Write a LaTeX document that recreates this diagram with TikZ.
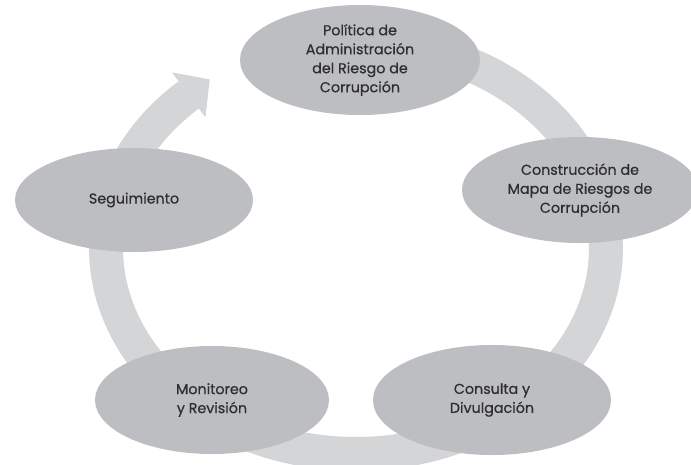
\documentclass[tikz,border=0pt]{standalone}
\usepackage{fontspec}
\setmainfont{Poppins}[FakeBold=0.6]
\usetikzlibrary{shapes.geometric,calc}
\definecolor{bandgray}{HTML}{D4D5D7}
\definecolor{ellgray}{HTML}{BDBEC2}
\definecolor{txtgray}{HTML}{2E2E2E}
\tikzset{
  stage/.style={ellipse, fill=ellgray, draw=none, inner sep=0pt,
    align=center, text=txtgray,
    font=\fontsize{14.3pt}{19pt}\selectfont},
  band/.style={draw=bandgray, line width=34pt},
}
\begin{document}
\begin{tikzpicture}[x=1pt,y=-1pt]
\useasboundingbox (0,0) rectangle (691,464);
\clip (0,0) rectangle (691,464);
\fill[white] (0,0) rectangle (691,464);
% circular band
\draw[band] plot[domain=280:588,samples=160,smooth] ({356+250*cos(\x)},{248+206*sin(\x)});
% arrowhead at end of band
\coordinate (B) at ({356+250*cos(588)},{248+206*sin(588)});
\fill[bandgray] ($(B)+(16.7,22.5)$) -- ($(B)+(21,-15.5)$) -- ($(B)+(-16.7,-22.5)$) -- cycle;
% stages
\node[stage, minimum width=240pt, minimum height=110pt] (pol) at (360,60)
  {Política de\\Administración\\del Riesgo de\\Corrupción};
\node[stage, minimum width=236pt, minimum height=106pt] (con) at (580,190)
  {Construcción de\\Mapa de Riesgos de\\Corrupción};
\node[stage, minimum width=238pt, minimum height=110pt] (cyd) at (492,400)
  {Consulta y\\Divulgación};
\node[stage, minimum width=234pt, minimum height=108pt] (mon) at (212,400)
  {Monitoreo\\y Revisión};
\node[stage, minimum width=238pt, minimum height=104pt] (seg) at (134,200)
  {Seguimiento};
\end{tikzpicture}
\end{document}
